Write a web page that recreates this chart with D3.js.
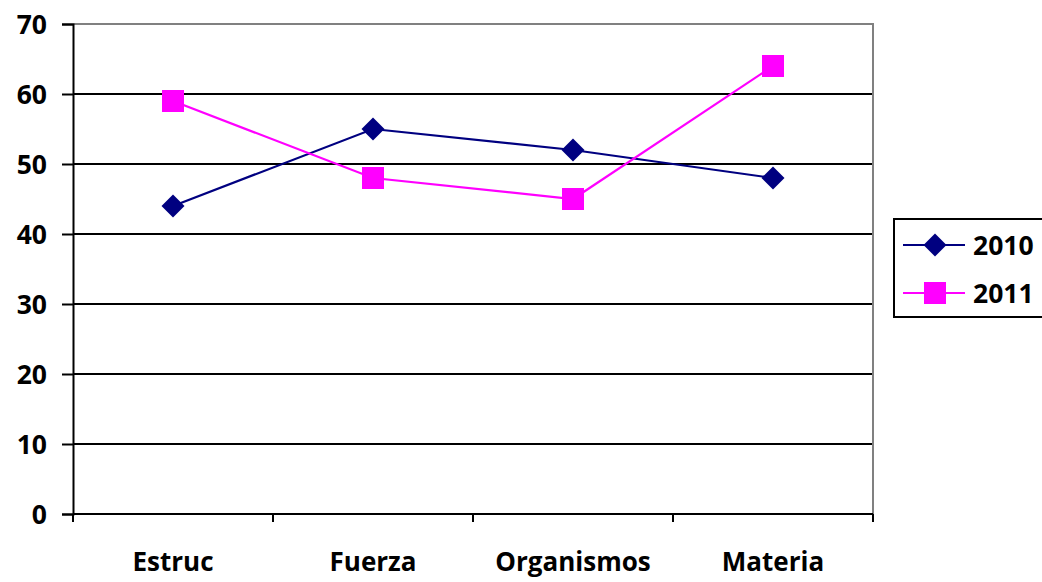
<!DOCTYPE html>
<html>
<head>
<meta charset="utf-8">
<script src="https://cdn.jsdelivr.net/npm/d3@7"></script>
<style>
  html, body { margin: 0; padding: 0; background: #fff; }
  svg { display: block; }
  text { font-family: "Open Sans", "Liberation Sans", sans-serif; font-weight: 700; fill: #000; }
</style>
</head>
<body>
<svg id="chart" width="1042" height="582"></svg>
<script>
const categories = ["Estruc", "Fuerza", "Organismos", "Materia"];
const series2010 = [44, 55, 52, 48];
const series2011 = [59, 48, 45, 64];
const seriesNames = ["2010", "2011"];
const yTicks = [0, 10, 20, 30, 40, 50, 60, 70];

(function () {
const svg = d3.select("#chart");
const pL = 73, pR = 873, pT = 24, pB = 514;

const x = d3.scaleBand().domain(categories).range([pL, pR]).padding(0);
const y = d3.scaleLinear().domain([0, 70]).range([pB, pT]);

// gridlines
svg.append("g").selectAll("line").data(yTicks.filter(d => d > 0 && d < 70)).join("line")
  .attr("x1", pL).attr("x2", pR)
  .attr("y1", d => y(d)).attr("y2", d => y(d))
  .attr("stroke", "#000").attr("stroke-width", 2);

// plot border top/right (gray)
svg.append("path")
  .attr("d", `M${pL},${y(70)}H${pR}V${pB}`)
  .attr("fill", "none").attr("stroke", "#808080").attr("stroke-width", 2);

// y axis
const yAxis = d3.axisLeft(y).tickValues(yTicks).tickSize(11).tickPadding(15);
const gy = svg.append("g").attr("transform", `translate(${pL},0)`).call(yAxis);
gy.select(".domain").attr("stroke", "#000").attr("stroke-width", 2);
gy.selectAll(".tick line").attr("stroke", "#000").attr("stroke-width", 2);
gy.selectAll(".tick text").attr("font-size", 26.5).attr("font-family", null).attr("dy", "0.36em");

// x axis
const xAxisScale = d3.scalePoint().domain(d3.range(categories.length + 1)).range([pL, pR]);
const gx = svg.append("g").attr("transform", `translate(0,${pB})`);
gx.append("line").attr("x1", pL).attr("x2", pR).attr("y1", 0).attr("y2", 0)
  .attr("stroke", "#000").attr("stroke-width", 2);
gx.selectAll("line.tk").data(d3.range(categories.length + 1)).join("line").attr("class", "tk")
  .attr("x1", d => xAxisScale(d)).attr("x2", d => xAxisScale(d))
  .attr("y1", 0).attr("y2", 8).attr("stroke", "#000").attr("stroke-width", 2);
gx.selectAll("text").data(categories).join("text")
  .attr("x", d => x(d) + x.bandwidth() / 2).attr("y", 57)
  .attr("text-anchor", "middle").attr("font-size", 26).text(d => d);

const cx = d => x(d) + x.bandwidth() / 2;
const line = d3.line().x((d, i) => cx(categories[i])).y(d => y(d));

const diamond = (s) => `M0,${-s}L${s},0L0,${s}L${-s},0Z`;

// 2010 series
svg.append("path").datum(series2010).attr("d", line)
  .attr("fill", "none").attr("stroke", "#000080").attr("stroke-width", 2.2);
svg.append("g").selectAll("path").data(series2010).join("path")
  .attr("transform", (d, i) => `translate(${cx(categories[i])},${y(d)})`)
  .attr("d", diamond(11.5)).attr("fill", "#000080");

// 2011 series
svg.append("path").datum(series2011).attr("d", line)
  .attr("fill", "none").attr("stroke", "#FF00FF").attr("stroke-width", 2.2);
svg.append("g").selectAll("rect").data(series2011).join("rect")
  .attr("x", (d, i) => cx(categories[i]) - 11).attr("y", d => y(d) - 11)
  .attr("width", 22).attr("height", 22).attr("fill", "#FF00FF");

// legend
const lg = svg.append("g");
lg.append("rect").attr("x", 894).attr("y", 219).attr("width", 200).attr("height", 98)
  .attr("fill", "#fff").attr("stroke", "#000").attr("stroke-width", 2);
const rows = [
  { name: seriesNames[0], color: "#000080", shape: "diamond", cy: 245 },
  { name: seriesNames[1], color: "#FF00FF", shape: "square", cy: 293 }
];
rows.forEach(r => {
  lg.append("line").attr("x1", 903).attr("x2", 965).attr("y1", r.cy).attr("y2", r.cy)
    .attr("stroke", r.color).attr("stroke-width", 2.2);
  if (r.shape === "diamond") {
    lg.append("path").attr("transform", `translate(935,${r.cy})`).attr("d", diamond(11.5)).attr("fill", r.color);
  } else {
    lg.append("rect").attr("x", 935 - 11).attr("y", r.cy - 11).attr("width", 22).attr("height", 22).attr("fill", r.color);
  }
  lg.append("text").attr("x", 973).attr("y", r.cy).attr("dy", "0.36em").attr("font-size", 26.5).text(r.name);
});
})();
</script>
</body>
</html>
